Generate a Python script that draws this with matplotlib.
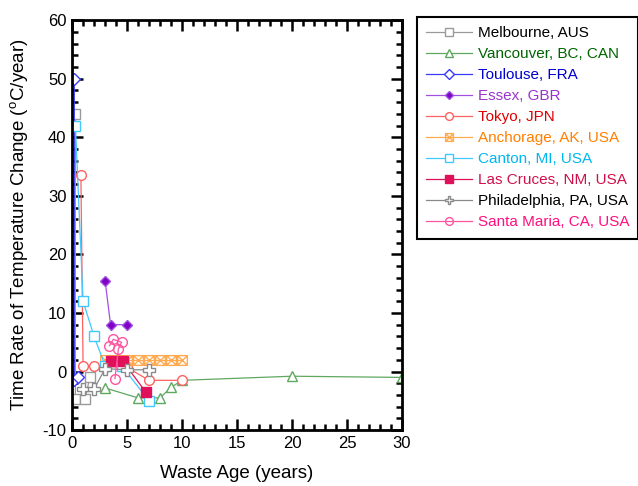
import matplotlib
matplotlib.use("Agg")
import matplotlib.pyplot as plt
from matplotlib.path import Path
from matplotlib.ticker import MultipleLocator

plt.rcParams['font.family'] = ['Liberation Sans', 'DejaVu Sans']
plt.rcParams['mathtext.fontset'] = 'custom'
plt.rcParams['mathtext.rm'] = 'Liberation Sans'
plt.rcParams['axes.unicode_minus'] = False

# data
melb_x = [0.3, 0.3, 1.2, 1.6]
melb_y = [44, -4.7, -4.7, -1.0]
vanc_x = [3, 6, 8, 9, 10, 20, 30]
vanc_y = [-2.8, -4.5, -4.5, -2.7, -1.5, -0.8, -1.0]
toul_x = [0.2, 0.2, 0.5]
toul_y = [50, -1.5, -1.0]
essex_x = [3, 3.5, 5]
essex_y = [15.5, 8, 8]
tokyo_x = [0.8, 1, 2, 5, 7, 10]
tokyo_y = [33.5, 1.0, 1.0, 0.7, -1.5, -1.5]
anch_x = [3, 4, 5, 6, 7, 8, 9, 10]
anch_y = [2, 2, 2, 2, 2, 2, 2, 2]
canton_x = [0.3, 1, 2, 3, 4.5, 7]
canton_y = [42, 12, 6, 1, 1, -5]
lasc_x = [3.5, 4.6, 6.7]
lasc_y = [1.8, 1.8, -3.5]
phil_x = [1, 2, 3, 5, 7]
phil_y = [-3, -3, 0.5, 0.3, 0.3]
sm_x = [3.4, 3.75, 4.5, 4.2, 3.9]
sm_y = [4.4, 5.5, 5.0, 3.8, -1.2]

# square with an X inside
xbox = Path([(-1, -1), (1, -1), (1, 1), (-1, 1), (-1, -1), (-1, -1), (1, 1), (-1, 1), (1, -1)],
            [Path.MOVETO, Path.LINETO, Path.LINETO, Path.LINETO, Path.CLOSEPOLY,
             Path.MOVETO, Path.LINETO, Path.MOVETO, Path.LINETO])

fig = plt.figure(figsize=(6.38, 4.86), dpi=100)
ax = fig.add_axes([0.113, 0.115, 0.517, 0.8436])

series = [
    # x, y, label, line colour, marker, size, face, text colour
    (melb_x, melb_y, 'Melbourne, AUS', '#9a9a9a', 's', 7.5, 'white', 'black'),
    (vanc_x, vanc_y, 'Vancouver, BC, CAN', '#5fa860', '^', 7, 'white', '#006400'),
    (toul_x, toul_y, 'Toulouse, FRA', '#3a3aff', 'D', 6, 'white', '#0000d0'),
    (essex_x, essex_y, 'Essex, GBR', '#a050e0', 'D', 5, '#8000c8', '#9933cc'),
    (tokyo_x, tokyo_y, 'Tokyo, JPN', '#ff6060', 'o', 7, 'white', '#e00000'),
    (anch_x, anch_y, 'Anchorage, AK, USA', '#ffaa50', xbox, 7, 'none', '#ff7f00'),
    (canton_x, canton_y, 'Canton, MI, USA', '#40c8ff', 's', 7, 'white', '#00b8f0'),
    (lasc_x, lasc_y, 'Las Cruces, NM, USA', '#e0105a', 's', 7, '#e0105a', '#d0104a'),
    (phil_x, phil_y, 'Philadelphia, PA, USA', '#8a8a8a', 'P', 8, 'white', 'black'),
    (sm_x, sm_y, 'Santa Maria, CA, USA', '#ff55a0', 'o', 7, 'none', '#ff0f7f'),
]

handles = []
for x, y, lab, c, m, ms, fc, tc in series:
    h, = ax.plot(x, y, color=c, lw=0.9, marker=m, markersize=ms,
                 markerfacecolor=fc, markeredgecolor=c, markeredgewidth=1.0,
                 label=lab)
    handles.append(h)

ax.set_xlim(0, 30)
ax.set_ylim(-10, 60)
ax.xaxis.set_major_locator(MultipleLocator(5))
ax.xaxis.set_minor_locator(MultipleLocator(1))
ax.yaxis.set_major_locator(MultipleLocator(10))
ax.yaxis.set_minor_locator(MultipleLocator(2))
ax.tick_params(which='both', direction='in', top=True, right=True, width=1.8, labelsize=12)
ax.tick_params(which='major', length=8, pad=4)
ax.tick_params(which='minor', length=4.5)
for s in ax.spines.values():
    s.set_linewidth(2)

ax.set_xlabel('Waste Age (years)', fontsize=13.5, labelpad=10)
ax.set_ylabel(r'Time Rate of Temperature Change ($^{\rm o}$C/year)', fontsize=13.5, labelpad=8)

leg = fig.legend(handles=handles, loc='upper left', bbox_to_anchor=(0.653, 0.965),
                 fontsize=11, handlelength=3.0, labelspacing=0.46, borderpad=0.6,
                 handletextpad=0.4, markerscale=0.8, fancybox=False, framealpha=1,
                 edgecolor='black', borderaxespad=0)
leg.get_frame().set_linewidth(1.5)
for t, s in zip(leg.get_texts(), series):
    t.set_color(s[7])

fig.savefig('out.png', dpi=100)
